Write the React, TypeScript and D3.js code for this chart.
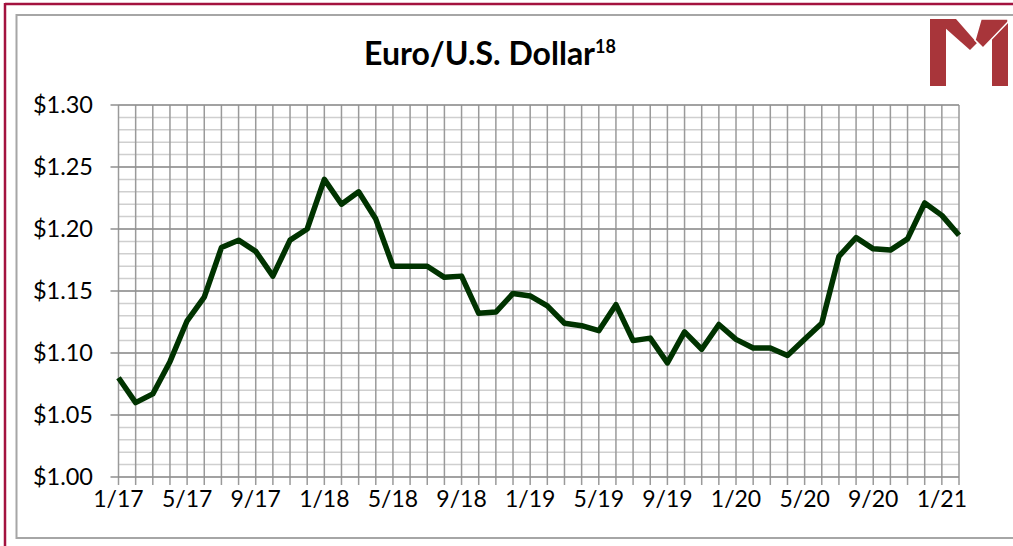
import React from "react";
import * as d3 from "d3";

const months = [
  "1/17","2/17","3/17","4/17","5/17","6/17","7/17","8/17","9/17","10/17","11/17","12/17",
  "1/18","2/18","3/18","4/18","5/18","6/18","7/18","8/18","9/18","10/18","11/18","12/18",
  "1/19","2/19","3/19","4/19","5/19","6/19","7/19","8/19","9/19","10/19","11/19","12/19",
  "1/20","2/20","3/20","4/20","5/20","6/20","7/20","8/20","9/20","10/20","11/20","12/20",
  "1/21","2/21",
];
const rates = [
  1.080, 1.060, 1.067, 1.093, 1.126, 1.145, 1.185, 1.191, 1.182, 1.162, 1.191, 1.200,
  1.240, 1.220, 1.230, 1.208, 1.170, 1.170, 1.170, 1.161, 1.162, 1.132, 1.133, 1.148,
  1.146, 1.138, 1.124, 1.122, 1.118, 1.139, 1.110, 1.112, 1.092, 1.117, 1.103, 1.123,
  1.111, 1.104, 1.104, 1.098, 1.111, 1.124, 1.178, 1.193, 1.184, 1.183, 1.192, 1.221,
  1.211, 1.195,
];
const tickLabels = ["1/17","5/17","9/17","1/18","5/18","9/18","1/19","5/19","9/19","1/20","5/20","9/20","1/21"];
const yTicks = [1.0, 1.05, 1.1, 1.15, 1.2, 1.25, 1.3];
const title = "Euro/U.S. Dollar";
const titleSup = "18";

const W = 1013, H = 546;
const left = 118.5, right = 959, top = 105, bottom = 477;
const FONT = "Lato, 'Open Sans', sans-serif";

export default function App() {
  const x = d3.scaleLinear().domain([0, months.length - 1]).range([left, right]);
  const y = d3.scaleLinear().domain([1.0, 1.3]).range([bottom, top]);
  const minor = d3.range(0, 31).map((k) => 1.0 + k * 0.01);
  const line = d3.line<number>().x((_, i) => x(i)).y((d) => y(d));
  return (
    <svg width={W} height={H} style={{ position: "absolute", left: 0, top: 0, background: "#fff" }}>
      <rect x={0} y={0} width={W} height={H} fill="#fff" />
      {/* outer frame */}
      <line x1={5} y1={4} x2={W} y2={4} stroke="#a3123f" strokeWidth={2.5} />
      <line x1={5} y1={3} x2={5} y2={H} stroke="#a3123f" strokeWidth={2.5} />
      <rect x={16.5} y={15} width={W} height={523} fill="#fff" stroke="#a6a6a6" strokeWidth={2} />
      {/* logo */}
      <g fill="#a8353a">
        <rect x={930} y={19} width={16} height={67} />
        <rect x={992} y={19} width={16} height={67} />
        <polygon points="935,19 956,19 977,43 970,50" />
        <polygon points="981,19 1008,19 1008,22 983,48 975,40 " stroke="#fff" strokeWidth={1.5} />
      </g>
      {/* title */}
      <text x={490} y={65} textAnchor="middle" fontFamily={FONT} fontWeight="bold" fontSize={32} fill="#000">
        {title}
        <tspan fontSize={18} dy={-12}>{titleSup}</tspan>
      </text>
      {/* minor horizontal grid */}
      {minor.map((v, i) => (
        <line key={"m" + i} x1={left} x2={right} y1={y(v)} y2={y(v)} stroke="#cfcfcf" strokeWidth={1.5} />
      ))}
      {/* vertical grid */}
      {months.map((m, i) => (
        <line key={"v" + i} x1={x(i)} x2={x(i)} y1={top} y2={bottom + 8} stroke="#9a9a9a" strokeWidth={1.5} />
      ))}
      {/* major horizontal grid */}
      {yTicks.map((v, i) => (
        <line key={"h" + i} x1={left - 8} x2={right} y1={y(v)} y2={y(v)} stroke="#8f8f8f" strokeWidth={1.5} />
      ))}
      {/* y labels */}
      {yTicks.map((v, i) => (
        <text key={"yl" + i} x={93} y={y(v)} dy="0.36em" textAnchor="end" fontFamily={FONT} fontSize={23.5} fill="#000">
          {d3.format("$.2f")(v)}
        </text>
      ))}
      {/* x labels */}
      {tickLabels.map((t) => {
        const i = months.indexOf(t);
        return (
          <text key={t} x={x(i)} y={507} textAnchor="middle" fontFamily={FONT} fontSize={23} fill="#000">
            {t}
          </text>
        );
      })}
      {/* data line */}
      <path d={line(rates) || ""} fill="none" stroke="#003300" strokeWidth={5.5} strokeLinejoin="round" strokeLinecap="butt" />
    </svg>
  );
}
